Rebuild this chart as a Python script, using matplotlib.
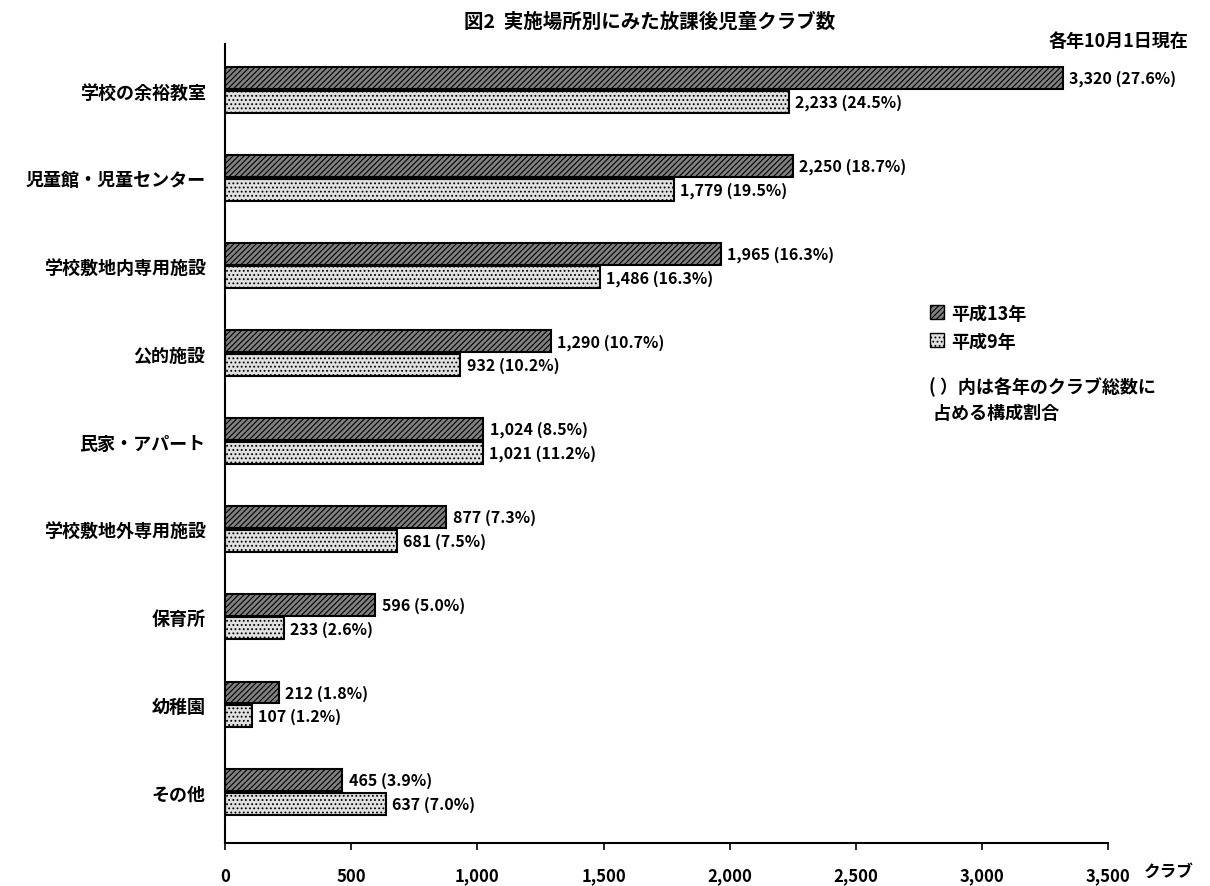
import matplotlib.pyplot as plt
from matplotlib.patches import Patch
import numpy as np

plt.rcParams['font.family'] = ['Noto Sans CJK JP', 'DejaVu Sans']
plt.rcParams['hatch.linewidth'] = 0.8

# データ
categories = ['学校の余裕教室', '児童館・児童センター', '学校敷地内専用施設', '公的施設',
              '民家・アパート', '学校敷地外専用施設', '保育所', '幼稚園', 'その他']
h13 = [3320, 2250, 1965, 1290, 1024, 877, 596, 212, 465]
h13_pct = [27.6, 18.7, 16.3, 10.7, 8.5, 7.3, 5.0, 1.8, 3.9]
h9 = [2233, 1779, 1486, 932, 1021, 681, 233, 107, 637]
h9_pct = [24.5, 19.5, 16.3, 10.2, 11.2, 7.5, 2.6, 1.2, 7.0]
xticks = [0, 500, 1000, 1500, 2000, 2500, 3000, 3500]

fig = plt.figure(figsize=(12.1, 8.87), dpi=100)
ax = fig.add_axes([0.186, 0.0485, 0.730, 0.9008])

y = np.arange(len(categories))
bh = 0.25
ax.barh(y - 0.135, h13, height=bh, facecolor='#808080', edgecolor='black',
        hatch='//////', linewidth=1.5, label='平成13年')
ax.barh(y + 0.135, h9, height=bh, facecolor='#e0e0e0', edgecolor='black',
        hatch='....', linewidth=1.5, label='平成9年')

for i in range(len(categories)):
    ax.text(h13[i] + 25, y[i] - 0.135, f'{h13[i]:,} ({h13_pct[i]}%)',
            va='center', ha='left', fontsize=11.5, fontweight='bold')
    ax.text(h9[i] + 25, y[i] + 0.135, f'{h9[i]:,} ({h9_pct[i]}%)',
            va='center', ha='left', fontsize=11.5, fontweight='bold')

ax.set_xlim(0, 3500)
ax.set_ylim(8.58, -0.525)
ax.set_yticks(y)
ax.set_yticklabels(categories, fontsize=13, fontweight='bold')
ax.tick_params(axis='y', length=0, pad=14)
ax.set_xticks(xticks)
ax.set_xticklabels([f'{v:,}' for v in xticks], fontsize=12, fontweight='bold')
ax.tick_params(axis='x', length=5, width=1.2, pad=12)
for s in ['top', 'right']:
    ax.spines[s].set_visible(False)
ax.spines['left'].set_linewidth(1.5)
ax.spines['bottom'].set_linewidth(1.5)

fig.text(0.537, 0.975, '図2  実施場所別にみた放課後児童クラブ数', ha='center', va='center',
         fontsize=14, fontweight='bold')
fig.text(0.982, 0.953, '各年10月1日現在', ha='right', va='center', fontsize=13, fontweight='bold')
fig.text(0.945, 0.017, 'クラブ', ha='left', va='center', fontsize=12, fontweight='bold')

handles = [Patch(facecolor='#808080', edgecolor='black', hatch='//////', label='平成13年'),
           Patch(facecolor='#e0e0e0', edgecolor='black', hatch='....', label='平成9年')]
fig.legend(handles=handles, loc='upper left', bbox_to_anchor=(0.755, 0.675), frameon=False,
           handlelength=0.8, handleheight=0.8, handletextpad=0.4, labelspacing=0.5,
           prop={'size': 13, 'weight': 'bold'})
fig.text(0.768, 0.575, '( ）内は各年のクラブ総数に\n 占める構成割合', ha='left', va='top',
         fontsize=13, fontweight='bold', linespacing=1.5)

fig.savefig('out.png', dpi=100)
